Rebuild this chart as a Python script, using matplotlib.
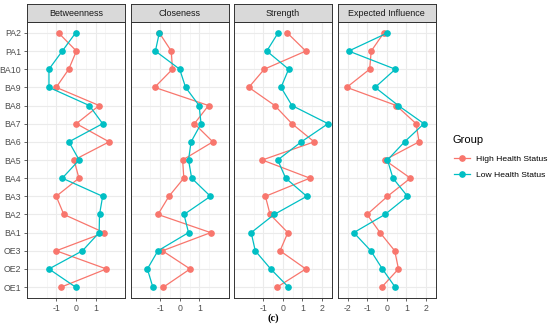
import matplotlib
matplotlib.use("Agg")
from matplotlib import pyplot as plt
from matplotlib.lines import Line2D

plt.rcParams["font.family"] = ["Liberation Sans", "DejaVu Sans"]

# noeuds, de bas en haut
nodes = ["OE1", "OE2", "OE3", "BA1", "BA2", "BA3", "BA4", "BA5",
         "BA6", "BA7", "BA8", "BA9", "BA10", "PA1", "PA2"]

# valeurs lues de haut en bas (PA2 -> OE1), on inverse ensuite
betw_high = [-0.89, 0.02, -0.37, -1.01, 1.18, 0.02, 1.69, -0.10, 0.15, -1.01, -0.62, 1.44, -1.01, 1.55, -0.76]
betw_low = [-0.02, -0.70, -1.38, -1.38, 0.68, 1.36, -0.36, 0.16, -0.70, 1.36, 1.20, 1.18, 0.33, -1.38, -0.02]
clos_high = [-1.04, -0.43, -0.37, -1.28, 1.47, 0.75, 1.69, 0.15, 0.21, -0.55, -1.11, 1.58, -0.88, 0.53, -0.83]
clos_low = [-1.04, -1.24, 0.00, 0.30, 0.99, 1.09, 0.58, 0.45, 0.61, 1.57, 0.22, 0.45, -1.11, -1.65, -1.37]
stre_high = [0.23, 1.18, -0.95, -1.74, -0.41, 0.47, 1.61, -1.05, 1.39, -0.89, -0.65, 0.26, -0.14, 1.18, -0.29]
stre_low = [-0.24, -0.82, 0.30, -0.09, 0.47, 2.32, 0.95, -0.26, 0.15, 1.23, -0.44, -1.62, -1.41, -0.62, 0.29]
ei_high = [-0.15, -0.79, -0.87, -2.04, 0.49, 1.50, 1.65, -0.10, 1.21, 0.04, -1.00, -0.34, 0.41, 0.60, -0.25]
ei_low = [0.04, -1.94, 0.44, -0.59, 0.59, 1.90, 0.91, 0.04, 0.32, 1.06, -0.09, -1.68, -0.81, -0.22, 0.43]

measures = ["Betweenness", "Closeness", "Strength", "Expected Influence"]
high = [betw_high, clos_high, stre_high, ei_high]
low = [betw_low, clos_low, stre_low, ei_low]
xticks = [[-1, 0, 1], [-1, 0, 1], [-1, 0, 1, 2], [-2, -1, 0, 1, 2]]

red = "#F8766D"
teal = "#00BFC4"

W, H = 550, 325
fig = plt.figure(figsize=(5.5, 3.25), dpi=100)

lefts = [27, 130.7, 234, 337.7]
pw = 98
ptop, pbot, stop = 22, 298, 4

ypos = list(range(len(nodes)))

for i in range(4):
    l = lefts[i]
    ax = fig.add_axes([l / W, 1 - pbot / H, pw / W, (pbot - ptop) / H])
    hv = high[i][::-1]
    lv = low[i][::-1]
    ax.plot(hv, ypos, color=red, lw=0.9, marker="o", ms=3.8, zorder=3)
    ax.plot(lv, ypos, color=teal, lw=0.9, marker="o", ms=3.8, zorder=3)
    ax.set_ylim(-0.6, len(nodes) - 0.4)
    allv = hv + lv
    lo, hi = min(allv), max(allv)
    pad = (hi - lo) * 0.05
    ax.set_xlim(lo - pad, hi + pad)
    ax.set_xticks(xticks[i])
    ax.set_xticklabels([str(t) for t in xticks[i]])
    ax.set_xticks([t + 0.5 for t in range(-3, 3)], minor=True)
    ax.set_yticks(ypos)
    if i == 0:
        ax.set_yticklabels(nodes)
    else:
        ax.set_yticklabels([])
    ax.grid(True, which="major", color="#EBEBEB", lw=0.8, zorder=0)
    ax.grid(True, which="minor", axis="x", color="#F3F3F3", lw=0.5, zorder=0)
    ax.set_axisbelow(True)
    ax.tick_params(axis="both", which="major", labelsize=6.3, colors="#4D4D4D",
                   length=2.5, width=0.6, pad=1.8)
    ax.tick_params(axis="both", which="minor", length=0)
    if i > 0:
        ax.tick_params(axis="y", length=0)
    for s in ax.spines.values():
        s.set_color("#333333")
        s.set_linewidth(0.7)

    # bandeau du facet
    sx = fig.add_axes([l / W, 1 - ptop / H, pw / W, (ptop - stop) / H])
    sx.set_facecolor("#D9D9D9")
    sx.set_xticks([])
    sx.set_yticks([])
    for s in sx.spines.values():
        s.set_color("#333333")
        s.set_linewidth(0.7)
    sx.text(0.5, 0.48, measures[i], ha="center", va="center", fontsize=6.5,
            color="#1A1A1A", transform=sx.transAxes)

# legende
fig.text(452.5 / W, 1 - 140 / H, "Group", fontsize=8, ha="left", va="center")
handles = [Line2D([0], [0], color=red, lw=0.9, marker="o", ms=3.8),
           Line2D([0], [0], color=teal, lw=0.9, marker="o", ms=3.8)]
fig.legend(handles, ["High Health Status", "Low Health Status"],
           loc="upper left", bbox_to_anchor=(451 / W, 1 - 152 / H),
           frameon=False, fontsize=6.1, handlelength=1.8, handletextpad=0.7,
           labelspacing=0.9, borderaxespad=0)

fig.text(273 / W, 1 - 318 / H, "(c)", fontsize=7.5, fontweight="bold",
         family="Liberation Serif", ha="center", va="center")

plt.savefig("out.png", dpi=100)
